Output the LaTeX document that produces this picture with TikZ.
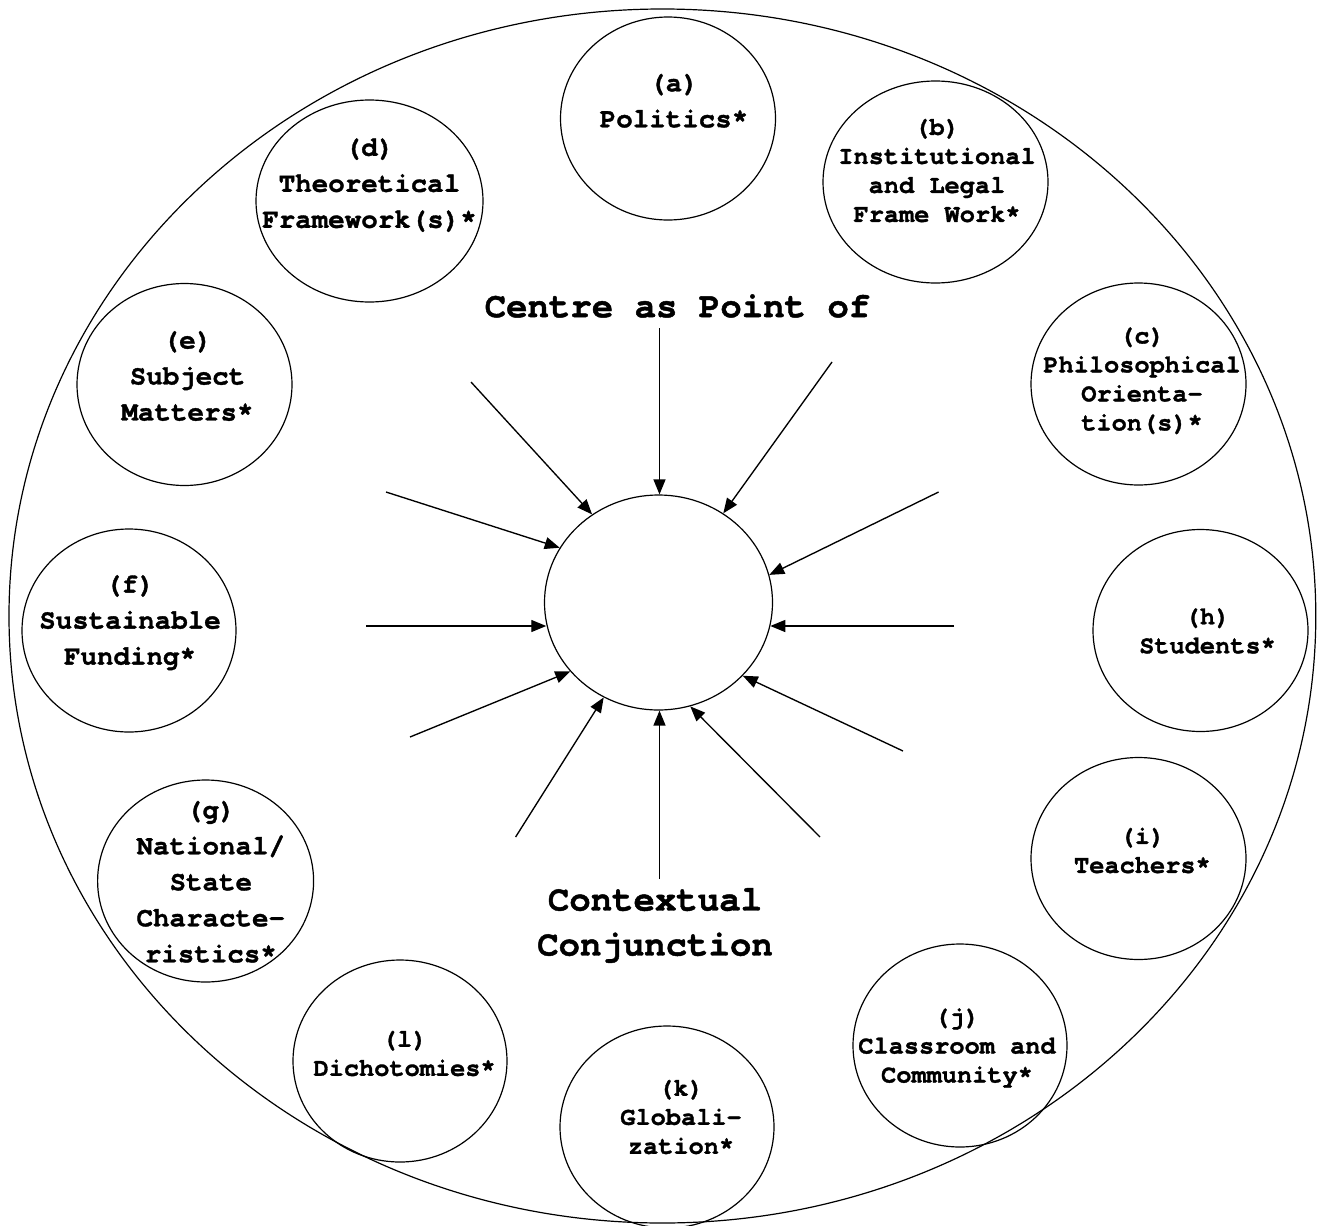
\documentclass[tikz,border=0pt]{standalone}
\usepackage{fontspec}
\setmonofont{texgyrecursor}[Extension=.otf, UprightFont=*-regular, BoldFont=*-bold, BoldFeatures={FakeBold=1.3}]
\usetikzlibrary{shapes.geometric,arrows.meta}
\begin{document}
\begin{tikzpicture}[x=1pt,y=-1pt,
  bubble/.style={ellipse, draw, line width=1.2pt, inner sep=0pt},
  lbl/.style={font=\ttfamily\bfseries\fontsize{27.5}{36}\selectfont, align=center, inner sep=0pt},
  slbl/.style={font=\ttfamily\bfseries\fontsize{25.3}{29}\selectfont, align=center, inner sep=0pt},
  bigtxt/.style={font=\ttfamily\bfseries\fontsize{35.7}{45}\selectfont, align=center, inner sep=0pt},
  feed/.style={line width=1.35pt, -{Triangle[length=15pt,width=12pt]}}]
\useasboundingbox (0,0) rectangle (1320,1226);
\fill[white] (0,0) rectangle (1320,1226);
% outer boundary
\node[bubble, minimum width=1306.8pt, minimum height=1214pt] (outer) at (662.4,616) {};
% factor circles
\node[bubble, minimum width=215pt, minimum height=203pt] (a) at (668,118.5) {};
\node[bubble, minimum width=225pt, minimum height=202pt] (b) at (935.5,182) {};
\node[bubble, minimum width=215pt, minimum height=202pt] (c) at (1138.5,384) {};
\node[bubble, minimum width=227pt, minimum height=202pt] (d) at (369.5,201) {};
\node[bubble, minimum width=215pt, minimum height=202pt] (e) at (184.5,384.5) {};
\node[bubble, minimum width=214pt, minimum height=203pt] (f) at (129,630.5) {};
\node[bubble, minimum width=216pt, minimum height=202pt] (g) at (205.6,881) {};
\node[bubble, minimum width=215pt, minimum height=202pt] (h) at (1200.5,630.5) {};
\node[bubble, minimum width=215pt, minimum height=202pt] (i) at (1138.5,858.5) {};
\node[bubble, minimum width=214pt, minimum height=203pt] (j) at (960,1045.5) {};
\node[bubble, minimum width=214pt, minimum height=202pt] (k) at (667,1127) {};
\node[bubble, minimum width=214pt, minimum height=202pt] (l) at (400,1061) {};
% central circle
\node[bubble, minimum width=228pt, minimum height=215pt] (hub) at (658.5,602.5) {};
% labels
\node[lbl] (ta) at (674,100.8) {(a)\\Politics*};
\node[slbl] (tb) at (937,170.6) {(b)\\Institutional\\and Legal\\Frame Work*};
\node[slbl] (tc) at (1142,380.8) {(c)\\Philosophical\\Orienta-\\tion(s)*};
\node[lbl] (td) at (369.5,185.2) {(d)\\Theoretical\\Framework(s)*};
\node[lbl] (te) at (187.5,376) {(e)\\Subject\\Matters*};
\node[lbl] (tf) at (130,622.7) {(f)\\Sustainable\\Funding*};
\node[lbl] (tg) at (210.8,881.8) {(g)\\National/\\State\\Characte-\\ristics*};
\node[slbl] (th) at (1207.5,631) {(h)\\Students*};
\node[slbl] (ti) at (1142.4,850.5) {(i)\\Teachers*};
\node[slbl] (tj) at (957,1048) {(j)\\Classroom and\\Community*};
\node[slbl] (tk) at (681,1117) {(k)\\Globali-\\zation*};
\node[slbl] (tl) at (404.6,1053.5) {(l)\\Dichotomies*};
\node[bigtxt] (ttop) at (677.5,306) {Centre as Point of};
\node[bigtxt] (tbot) at (655,925.5) {Contextual\\Conjunction};
% arrow tails
\coordinate (s1) at (471,382);
\coordinate (s2) at (386,492);
\coordinate (s3) at (366,626);
\coordinate (s4) at (410,737);
\coordinate (s5) at (515.6,837);
\coordinate (s6) at (659.5,879);
\coordinate (s7) at (820,837);
\coordinate (s8) at (903,751);
\coordinate (s9) at (954,626);
\coordinate (s10) at (938.6,492);
\coordinate (s11) at (832,362);
\coordinate (s12) at (659.5,328);
% arrows
\draw[feed] (s1) -- (hub.127);
\draw[feed] (s2) -- (hub.151.3);
\draw[feed] (s3) -- (s3 -| hub.191.6);
\draw[feed] (s4) -- (hub.218.4);
\draw[feed] (s5) -- (hub.240.9);
\draw[feed] (s6) -- (s6 |- hub.south);
\draw[feed] (s7) -- (hub.287.2);
\draw[feed] (s8) -- (hub.319.8);
\draw[feed] (s9) -- (s9 -| hub.348.1);
\draw[feed] (s10) -- (hub.14);
\draw[feed] (s11) -- (hub.54.1);
\draw[feed] (s12) -- (s12 |- hub.north);
\end{tikzpicture}
\end{document}
